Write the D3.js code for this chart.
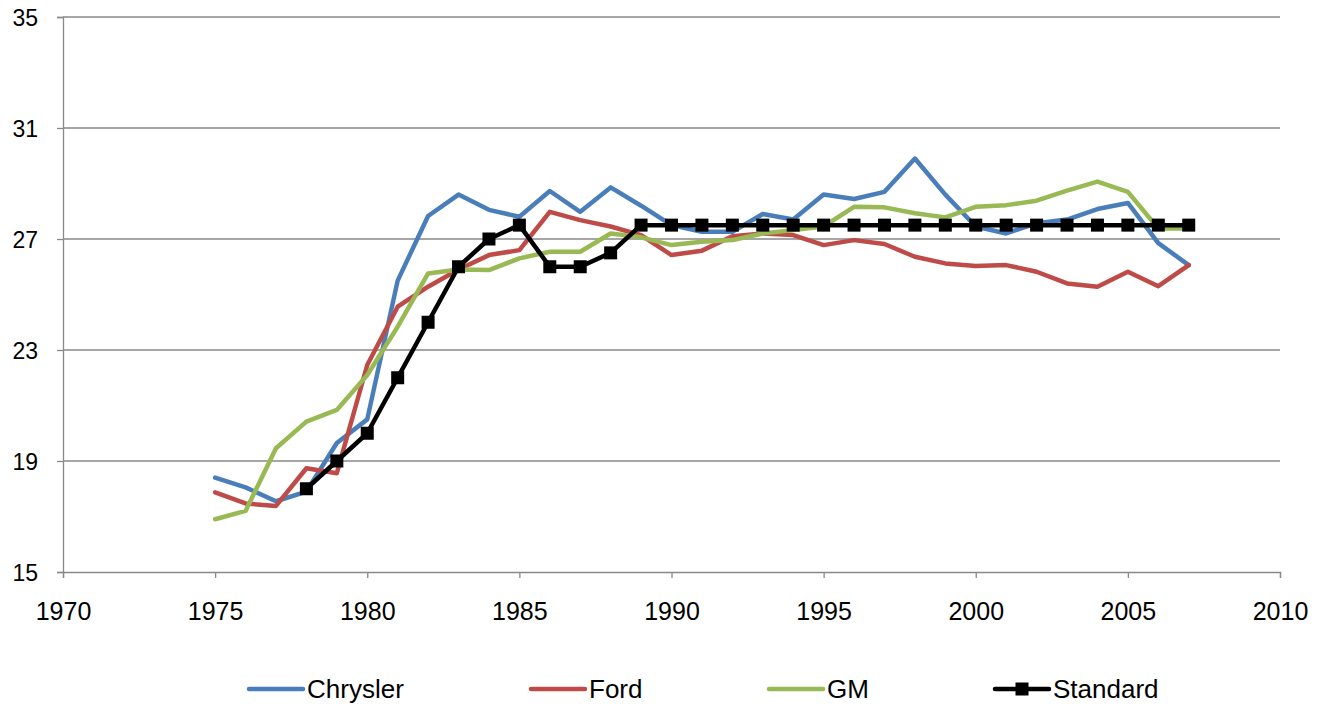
<!DOCTYPE html>
<html>
<head>
<meta charset="utf-8">
<script src="https://cdn.jsdelivr.net/npm/d3@7"></script>
<style>
  body { margin: 0; background: #fff; }
  svg text { font-family: "Liberation Sans", Arial, sans-serif; fill: #000; }
</style>
</head>
<body>
<div id="chart"></div>
<script>
// data
const years = d3.range(1975, 2008);
const chrysler = [18.4, 18.05, 17.55, 17.9, 19.65, 20.5, 25.5, 27.83, 28.6, 28.05, 27.8,
  28.73, 27.98, 28.86, 28.2, 27.5, 27.26, 27.26, 27.9, 27.7, 28.6, 28.44, 28.7,
  29.9, 28.6, 27.45, 27.2, 27.57, 27.7, 28.08, 28.3, 26.85, 26.06];
const ford = [17.87, 17.47, 17.38, 18.74, 18.56, 22.46, 24.56, 25.28, 25.9, 26.42, 26.6,
  27.98, 27.68, 27.45, 27.14, 26.42, 26.58, 27.1, 27.2, 27.14, 26.78, 26.96, 26.82,
  26.36, 26.12, 26.03, 26.06, 25.82, 25.4, 25.28, 25.82, 25.3, 26.06];
const gm = [16.9, 17.2, 19.46, 20.42, 20.84, 22.1, 23.84, 25.76, 25.9, 25.88, 26.3,
  26.54, 26.54, 27.2, 27.06, 26.78, 26.9, 26.96, 27.2, 27.32, 27.45, 28.16, 28.14,
  27.93, 27.78, 28.16, 28.22, 28.38, 28.74, 29.07, 28.7, 27.38, 27.38];
const stdYears = d3.range(1978, 2008);
const standard = [18, 19, 20, 22, 24, 26, 27, 27.5, 26, 26, 26.5,
  27.5, 27.5, 27.5, 27.5, 27.5, 27.5, 27.5, 27.5, 27.5, 27.5, 27.5, 27.5,
  27.5, 27.5, 27.5, 27.5, 27.5, 27.5, 27.5];
const xTicks = [1970, 1975, 1980, 1985, 1990, 1995, 2000, 2005, 2010];
const yTicks = [15, 19, 23, 27, 31, 35];

const series = [
  { name: "Chrysler", color: "#4A7EBB", x: years, y: chrysler },
  { name: "Ford", color: "#BE4B48", x: years, y: ford },
  { name: "GM", color: "#98B954", x: years, y: gm },
  { name: "Standard", color: "#000000", x: stdYears, y: standard, marker: true }
];

const width = 1323, height = 704;

const svg = d3.select('#chart')
  .append('svg')
  .attr('width', width)
  .attr('height', height);

const x = d3.scaleLinear().domain([1970, 2010]).range([63, 1280]);
const y = d3.scaleLinear().domain([15, 35]).range([572, 17]);

// gridlines
svg.append('g')
  .selectAll('line')
  .data(yTicks.slice(1))
  .enter()
  .append('line')
  .attr('x1', x(1970))
  .attr('x2', x(2010))
  .attr('y1', d => y(d))
  .attr('y2', d => y(d))
  .attr('stroke', '#898989')
  .attr('stroke-width', 1.3);

// y axis
const yAxis = svg.append('g')
  .attr('transform', `translate(${x(1970)},0)`)
  .call(d3.axisLeft(y).tickValues(yTicks).tickSize(6).tickPadding(19).tickFormat(d3.format('d')));

// x axis
const xAxis = svg.append('g')
  .attr('transform', `translate(0,${y(15)})`)
  .call(d3.axisBottom(x).tickValues(xTicks).tickSize(6).tickPadding(24).tickFormat(d3.format('d')));

[yAxis, xAxis].forEach(a => {
  a.select('.domain').attr('stroke', '#898989').attr('stroke-width', 1.3);
  a.selectAll('.tick line').attr('stroke', '#898989').attr('stroke-width', 1.3);
  a.selectAll('.tick text').attr('fill', '#000');
});
yAxis.selectAll('.tick text').style('font-size', '23px').attr('dy', '0.35em');
xAxis.selectAll('.tick text').style('font-size', '25px').attr('dy', '0.71em');

// lines
const line = d3.line()
  .x(d => x(d[0]))
  .y(d => y(d[1]));

series.forEach(s => {
  const pts = s.x.map((yr, i) => [yr, s.y[i]]);
  svg.append('path')
    .datum(pts)
    .attr('d', line)
    .attr('fill', 'none')
    .attr('stroke', s.color)
    .attr('stroke-width', 4.5)
    .attr('stroke-linejoin', 'round')
    .attr('stroke-linecap', 'round');
  if (s.marker) {
    svg.append('g')
      .selectAll('rect')
      .data(pts)
      .enter()
      .append('rect')
      .attr('x', d => x(d[0]) - 6.5)
      .attr('y', d => y(d[1]) - 6.5)
      .attr('width', 13)
      .attr('height', 13)
      .attr('fill', '#000');
  }
});

// legend
const legendX = [249, 531, 769, 995];
const legend = svg.append('g')
  .selectAll('g')
  .data(series)
  .enter()
  .append('g')
  .attr('transform', (d, i) => `translate(${legendX[i]},689)`);

legend.append('line')
  .attr('x1', 0)
  .attr('x2', 54)
  .attr('stroke', d => d.color)
  .attr('stroke-width', 4.5)
  .attr('stroke-linecap', 'round');

legend.filter(d => d.marker)
  .append('rect')
  .attr('x', 27 - 6.5)
  .attr('y', -6.5)
  .attr('width', 13)
  .attr('height', 13)
  .attr('fill', '#000');

legend.append('text')
  .attr('x', 58)
  .attr('dy', '0.35em')
  .style('font-size', '26px')
  .text(d => d.name);
</script>
</body>
</html>
